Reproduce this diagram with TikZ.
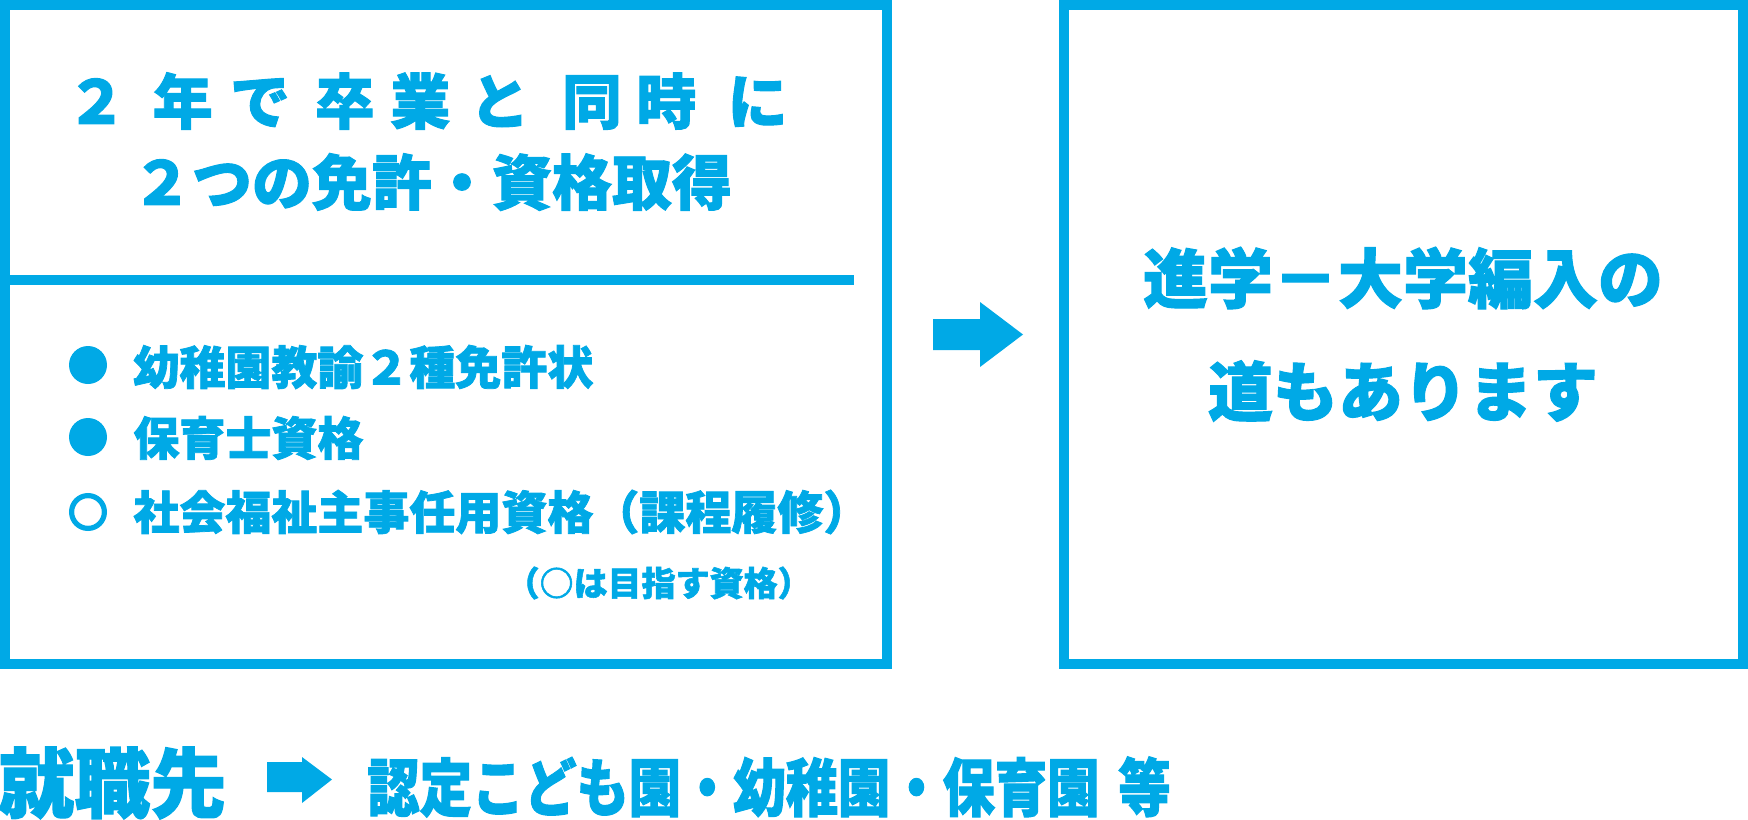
\documentclass[tikz,border=0pt]{standalone}
\usepackage{fontspec}
\newfontfamily\jpfont{Noto Sans CJK JP}[BoldFeatures={FakeBold=1.6}]
\newfontfamily\jpnarrow{Noto Sans CJK JP}[FakeStretch=0.83,BoldFeatures={FakeBold=1.6}]
\definecolor{skyblue}{HTML}{00A9E6}
\newcommand\kgap[1]{\hspace{#1em}}

\begin{document}
\begin{tikzpicture}[x=0.5pt,y=-0.5pt,
	every node/.style={text=skyblue,inner sep=0pt},
	frame/.style={draw=skyblue,line width=5pt},
	title/.style={font=\jpfont\bfseries\fontsize{30}{36}\selectfont},
	item/.style={anchor=west,font=\jpfont\bfseries\fontsize{23}{28}\selectfont},
	note/.style={anchor=east,font=\jpfont\bfseries\fontsize{17}{20}\selectfont},
	big/.style={font=\jpfont\bfseries\fontsize{32.5}{38}\selectfont},
	dot/.style={circle,fill=skyblue,minimum size=19pt},
	ring/.style={circle,draw=skyblue,line width=2.6pt,minimum size=16.4pt}]
\useasboundingbox (0,0) rectangle (1748,819);
\draw[frame] (5,5) rectangle (887,664);
\draw[frame] (5,280) -- (854,280);
\draw[frame] (1064,5) rectangle (1743,664);

\node[title] (t1) at (427,101) {２\kgap{.44}年\kgap{.29}で\kgap{.41}卒\kgap{.26}業\kgap{.32}と\kgap{.54}同\kgap{.24}時\kgap{.52}に};
\node[title] (t2) at (432,182) {２つの免許・資格取得};

\node[dot] (b1) at (88,365) {};
\node[dot] (b2) at (88,437) {};
\node[ring] (b3) at (88,512) {};
\node[item] (i1) at (133,367) {幼稚園教諭２種免許状};
\node[item] (i2) at (133,438) {保育士資格};
\node[item] (i3) at (133,512) {社会福祉主事任用資格（課程履修）};
\node[note] (n1) at (812,583) {（○は目指す資格）};

\fill[skyblue] (933,319) -- (980,319) -- (980,302) -- (1023,334.5) -- (980,367) -- (980,350) -- (933,350) -- cycle;

\node[big] (r1) at (1403,278) {進学－大学編入の};
\node[big] (r2) at (1403,391) {道もあります};

\node[anchor=west,font=\jpfont\bfseries\fontsize{38}{42}\selectfont] (job) at (-2,783) {就職先};
\fill[skyblue] (267,762) -- (302,762) -- (302,757) -- (332,779.5) -- (302,803) -- (302,792) -- (267,792) -- cycle;
\node[anchor=west,font=\jpnarrow\bfseries\fontsize{31.5}{36}\selectfont] (place) at (367,787) {認定こども園・幼稚園・保育園\kgap{.3}等};
\end{tikzpicture}
\end{document}
